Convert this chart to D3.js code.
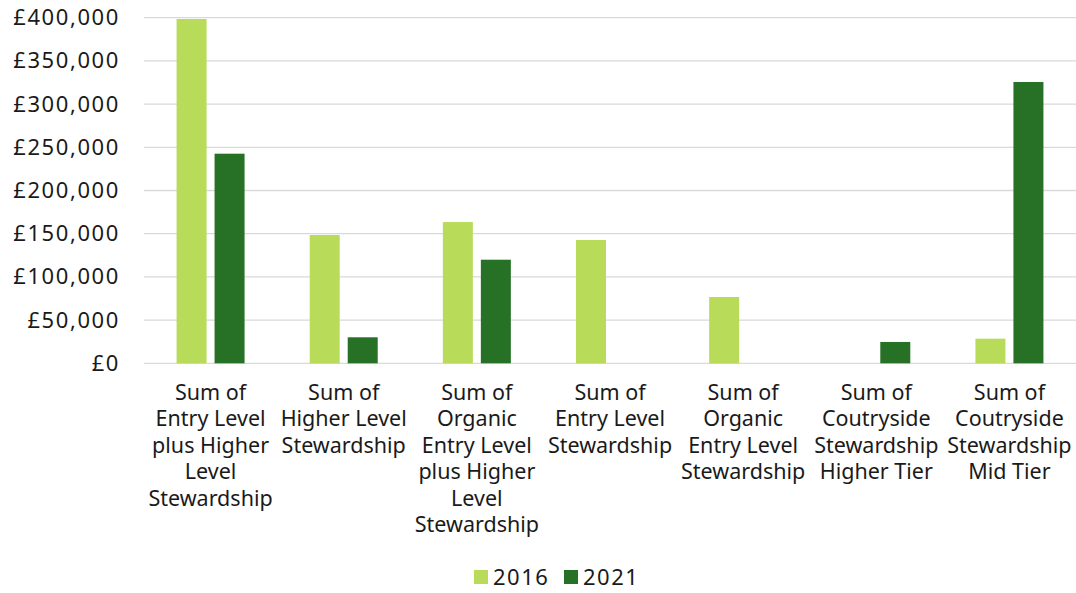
<!DOCTYPE html>
<html>
<head>
<meta charset="utf-8">
<script src="https://cdn.jsdelivr.net/npm/d3@7"></script>
<style>
  html, body { margin: 0; padding: 0; background: #ffffff; }
  svg { display: block; font-family: "Noto Sans", "DejaVu Sans", sans-serif; }
</style>
</head>
<body>
<svg id="chart" width="1076" height="593"></svg>
<script>
// Agri-environment scheme payments by scheme, 2016 vs 2021
const categories = [
  ["Sum of", "Entry Level", "plus Higher", "Level", "Stewardship"],
  ["Sum of", "Higher Level", "Stewardship"],
  ["Sum of", "Organic", "Entry Level", "plus Higher", "Level", "Stewardship"],
  ["Sum of", "Entry Level", "Stewardship"],
  ["Sum of", "Organic", "Entry Level", "Stewardship"],
  ["Sum of", "Coutryside", "Stewardship", "Higher Tier"],
  ["Sum of", "Coutryside", "Stewardship", "Mid Tier"]
];
const seriesNames = ["2016", "2021"];
const values2016 = [398500, 148500, 163500, 142700, 76700, 0, 28500];
const values2021 = [242600, 30100, 119900, 0, 0, 24700, 325600];
const yTicks = [0, 50000, 100000, 150000, 200000, 250000, 300000, 350000, 400000];
const colors = ["#b8dc5a", "#277127"];

const svg = d3.select("#chart");
const margin = { top: 17.7, right: 0, bottom: 229.7, left: 144 };
const W = 1076, H = 593;
const innerW = W - margin.left - margin.right;
const innerH = H - margin.top - margin.bottom;

const keys = categories.map(c => c.join(" "));
const series = [values2016, values2021];

const x = d3.scaleBand().domain(keys).range([0, innerW]).paddingInner(0).paddingOuter(0);
const y = d3.scaleLinear().domain([0, 400000]).range([innerH, 0]);
const fmt = v => "£" + d3.format(",")(v);

const g = svg.append("g").attr("transform", `translate(${margin.left},${margin.top})`);

// horizontal gridlines
g.append("g")
  .selectAll("line")
  .data(yTicks)
  .join("line")
  .attr("x1", 0).attr("x2", innerW)
  .attr("y1", d => y(d)).attr("y2", d => y(d))
  .attr("stroke", "#d9d9d9")
  .attr("stroke-width", 1.3);

// y axis labels
const yAxis = d3.axisLeft(y).tickValues(yTicks).tickFormat(fmt).tickSize(0).tickPadding(24);
const ya = g.append("g").call(yAxis);
ya.select(".domain").remove();
ya.selectAll("text")
  .attr("font-size", 22)
  .attr("letter-spacing", 1.6)
  .attr("font-family", "Noto Sans, sans-serif")
  .attr("fill", "#1a1a1a");

// bars: 2016 and 2021 within each category band
const barW = 30, gap = 8;
const x1 = d3.scaleBand().domain(seriesNames).range([
  (x.bandwidth() - (2 * barW + gap)) / 2,
  (x.bandwidth() + (2 * barW + gap)) / 2
]).paddingInner(gap / (barW + gap));

const groups = g.append("g")
  .selectAll("g")
  .data(keys)
  .join("g")
  .attr("transform", d => `translate(${x(d)},0)`);

groups.selectAll("rect")
  .data((d, i) => seriesNames.map((s, j) => ({ s, v: series[j][i], j })))
  .join("rect")
  .filter(d => d.v > 0)
  .attr("x", d => x1(d.s))
  .attr("width", x1.bandwidth())
  .attr("y", d => y(d.v))
  .attr("height", d => y(0) - y(d.v))
  .attr("fill", d => colors[d.j]);

// category labels, one tspan per line
const labels = g.append("g")
  .selectAll("text")
  .data(categories)
  .join("text")
  .attr("text-anchor", "middle")
  .attr("font-size", 21.5)
  .attr("fill", "#1a1a1a")
  .attr("transform", (d, i) => `translate(${x(keys[i]) + x.bandwidth() / 2},${innerH + 36.5})`);

labels.selectAll("tspan")
  .data(d => d)
  .join("tspan")
  .attr("x", 0)
  .attr("y", (d, i) => i * 26.5)
  .text(d => d);

// legend
const legend = svg.append("g").attr("transform", "translate(474,570)");
const items = legend.selectAll("g")
  .data(seriesNames)
  .join("g")
  .attr("transform", (d, i) => `translate(${i * 90},0)`);
items.append("rect")
  .attr("width", 14).attr("height", 14)
  .attr("fill", (d, i) => colors[i]);
items.append("text")
  .attr("x", 19).attr("y", 15)
  .attr("font-size", 22)
  .attr("letter-spacing", 1.5)
  .attr("fill", "#1a1a1a")
  .text(d => d);
</script>
</body>
</html>
